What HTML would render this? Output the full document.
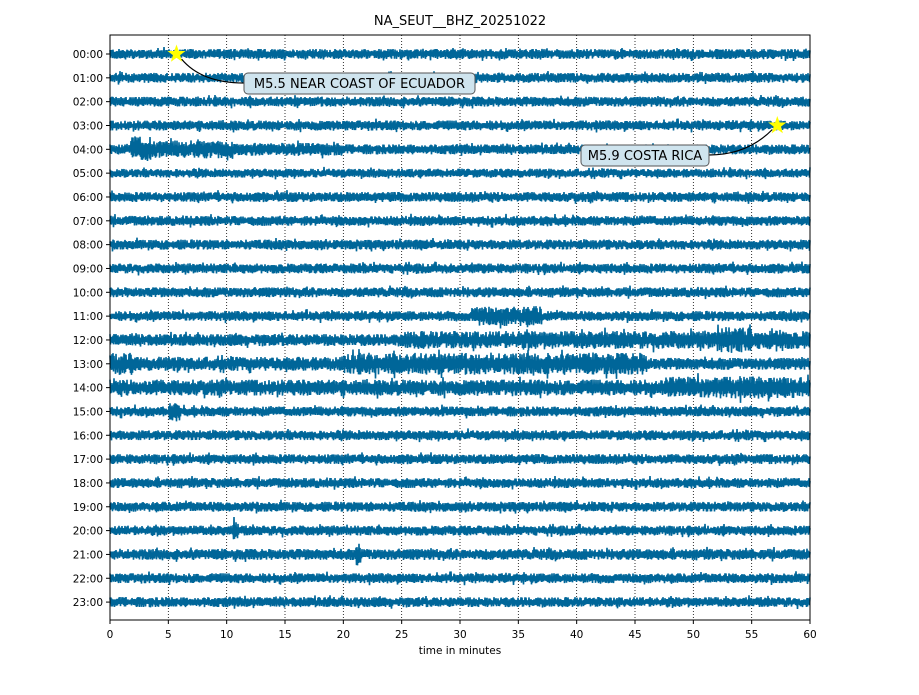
<!DOCTYPE html>
<html><head><meta charset="utf-8"><style>
body{margin:0;background:#fff;font-family:"Liberation Sans","DejaVu Sans",sans-serif}
svg text{font-family:"DejaVu Sans","Liberation Sans",sans-serif}
</style></head><body>
<svg id="chart" width="919" height="690" xmlns="http://www.w3.org/2000/svg">
<rect width="919" height="690" fill="#fff"/>
<text x="460" y="25" text-anchor="middle" font-size="13">NA_SEUT__BHZ_20251022</text>
<g id="grid"></g><g id="traces"></g><g id="axes"></g><g id="ann"></g>
</svg>
<script>
const hourLabels=["00:00","01:00","02:00","03:00","04:00","05:00","06:00","07:00","08:00","09:00","10:00","11:00","12:00","13:00","14:00","15:00","16:00","17:00","18:00","19:00","20:00","21:00","22:00","23:00"];
const baseAmp=[5,5,5,5,5,4.5,5,5,5,5,5,5,6,6,6,5,5,5,5,5,5,5.5,5,5];
// events: [hourIndex, startMin, endMin, halfAmplitudePx]
const events=[[4,1.8,3.5,13],[4,3.5,10.5,9],[4,10.5,20,6.5],[11,31,37,10],[12,25,60,9],[12,52,55,13],[12,56.5,58,12],[13,0,2,11],[13,20,46,11],[13,2,20,7],[14,0,48,8],[14,48,60,11],[15,5,6,9],[20,10.5,11,10],[21,21,21.5,11]];
const xTicks=[0,5,10,15,20,25,30,35,40,45,50,55,60];
const quakes=[{hour:0,min:5.7,label:"M5.5 NEAR COAST OF ECUADOR",bx:244,by:73,bw:231},{hour:3,min:57.2,label:"M5.9 COSTA RICA",bx:581,by:145,bw:128}];
const L=110,R=810,T=35,B=620,y0=54,dy=23.83;
const sx=m=>L+(R-L)*m/60, sy=h=>y0+h*dy;
const NS="http://www.w3.org/2000/svg";
function mk(t,a,p){const e=document.createElementNS(NS,t);for(const k in a)e.setAttribute(k,a[k]);(p||document.getElementById('chart')).appendChild(e);return e;}
const grid=document.getElementById('grid'),tr=document.getElementById('traces'),ax=document.getElementById('axes'),an=document.getElementById('ann');
xTicks.forEach(t=>{if(t>0&&t<60){const l=mk('line',{x1:sx(t),x2:sx(t),y1:T,y2:B,stroke:'#000','stroke-width':0.8,'stroke-dasharray':'1,2'},grid);}});
let seed=12345;function rnd(){seed=(seed*1103515245+12345)%2147483648;return seed/2147483648;}
hourLabels.forEach((lab,h)=>{
  const yc=sy(h);let d='';
  for(let i=0;i<=1400;i++){const m=i*60/1400;let a=baseAmp[h];
    events.forEach(e=>{if(e[0]===h&&m>=e[1]&&m<=e[2])a=Math.max(a,e[3]);});
    const r=(rnd()*0.7+0.3)*(rnd()<0.05?1.4:1);const s=i%2?1:-1;
    d+=(i?'L':'M')+sx(m).toFixed(1)+','+(yc+s*a*r).toFixed(1);}
  const p=mk('path',{d:d,fill:'none',stroke:'#006699','stroke-width':1.6},tr);
  
  const tk=mk('line',{x1:L-4,x2:L,y1:yc,y2:yc,stroke:'#000'},ax);
  const t=mk('text',{x:L-7,y:yc+4,'text-anchor':'end','font-size':10.5},ax);t.textContent=lab;
  
});
const fr=mk('rect',{x:L,y:T,width:R-L,height:B-T,fill:'none',stroke:'#000','stroke-width':1},ax);

xTicks.forEach(t=>{const tk=mk('line',{x1:sx(t),x2:sx(t),y1:B,y2:B+4,stroke:'#000'},ax);
  const tx=mk('text',{x:sx(t),y:B+18,'text-anchor':'middle','font-size':10.5},ax);tx.textContent=t;});
const xl=mk('text',{x:460,y:654,'text-anchor':'middle','font-size':10.5},ax);xl.textContent='time in minutes';

function star(cx,cy,r){let pts=[];for(let i=0;i<10;i++){const rr=i%2?r*0.4:r,a=-Math.PI/2+i*Math.PI/5;pts.push((cx+rr*Math.cos(a)).toFixed(1)+','+(cy+rr*Math.sin(a)).toFixed(1));}return pts.join(' ');}
quakes.forEach((q,i)=>{
  const cx=sx(q.min),cy=sy(q.hour);
  const tx=i===0?q.bx:q.bx+q.bw, ty=q.by+10;
  const c=mk('path',{d:i===0?`M${cx+5},${cy+5} Q${cx+25},${ty} ${tx},${ty}`:`M${cx-5},${cy+4} Q${cx-30},${ty} ${tx},${ty}`,fill:'none',stroke:'#000','stroke-width':1.2},an);
  
  const s=mk('polygon',{points:star(cx,cy,8),fill:'#ffff00',stroke:'#ffff00'},an);
  
  const b=mk('rect',{x:q.bx,y:q.by,width:q.bw,height:21,rx:4,fill:'#cfe4ee',stroke:'#555','stroke-width':1},an);
  
  const t=mk('text',{x:q.bx+q.bw/2,y:q.by+15,'text-anchor':'middle','font-size':13},an);t.textContent=q.label;
  
});
</script>
</body></html>
